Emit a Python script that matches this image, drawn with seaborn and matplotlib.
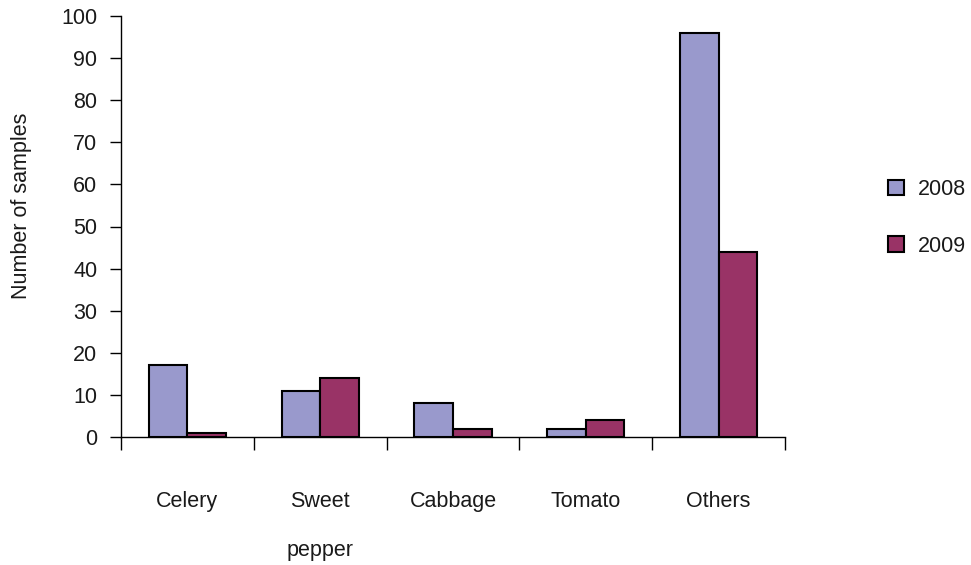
import matplotlib
matplotlib.use("Agg")
import matplotlib.pyplot as plt
import seaborn as sns
import pandas as pd
from matplotlib.ticker import FixedLocator

categories = ["Celery", "Sweet\npepper", "Cabbage", "Tomato", "Others"]
years = ["2008", "2009"]
values_2008 = [17, 11, 8, 2, 96]
values_2009 = [1, 14, 2, 4, 44]
yticks = list(range(0, 101, 10))

colors = {"2008": "#9999CC", "2009": "#993366"}

rows = []
for c, v in zip(categories, values_2008):
    rows.append({"cat": c, "year": "2008", "n": v})
for c, v in zip(categories, values_2009):
    rows.append({"cat": c, "year": "2009", "n": v})
df = pd.DataFrame(rows)

sns.set_style("white")
plt.rcParams["font.family"] = ["Liberation Sans", "DejaVu Sans"]

FS = 15.5
TXT = "#1a1a1a"

fig = plt.figure(figsize=(9.71, 5.65), dpi=100)
ax = fig.add_axes([121/971, 1-437/565, (785-121)/971, (437-16)/565])

sns.barplot(data=df, x="cat", y="n", hue="year", order=categories,
            hue_order=years, palette=colors, width=0.58, gap=0,
            edgecolor="black", linewidth=1.5, saturation=1, ax=ax,
            errorbar=None)

ax.set_xlim(-0.5, 4.5)
ax.set_ylim(0, 100)
ax.set_yticks(yticks)
ax.set_yticklabels([str(t) for t in yticks], fontsize=FS, color=TXT)
ax.tick_params(axis="y", direction="out", length=8, width=1, pad=9, left=True, color="black")

ax.set_xticks(range(len(categories)))
ax.set_xticklabels(categories, fontsize=FS, color=TXT, va="top")
for lab in ax.get_xticklabels():
    lab.set_linespacing(2.75)
ax.tick_params(axis="x", which="major", length=0, pad=39)
ax.xaxis.set_minor_locator(FixedLocator([i - 0.5 for i in range(len(categories) + 1)]))
ax.tick_params(axis="x", which="minor", direction="out", length=9, width=1, bottom=True, color="black")

ax.set_xlabel("")
ax.set_ylabel("Number of samples", fontsize=FS, color=TXT)
ax.yaxis.set_label_coords(-0.134, 0.549)

for s in ["top", "right"]:
    ax.spines[s].set_visible(False)
for s in ["left", "bottom"]:
    ax.spines[s].set_color("black")
    ax.spines[s].set_linewidth(1)

handles, labels = ax.get_legend_handles_labels()
if ax.get_legend() is not None:
    ax.get_legend().remove()
fig.legend(handles, labels, loc="upper left", bbox_to_anchor=(888/971, 1-179/565),
           frameon=False, fontsize=FS, handlelength=0.75, handleheight=0.75,
           handletextpad=0.65, labelspacing=1.65, borderpad=0, borderaxespad=0,
           labelcolor=TXT)

fig.savefig("out.png", dpi=100)
